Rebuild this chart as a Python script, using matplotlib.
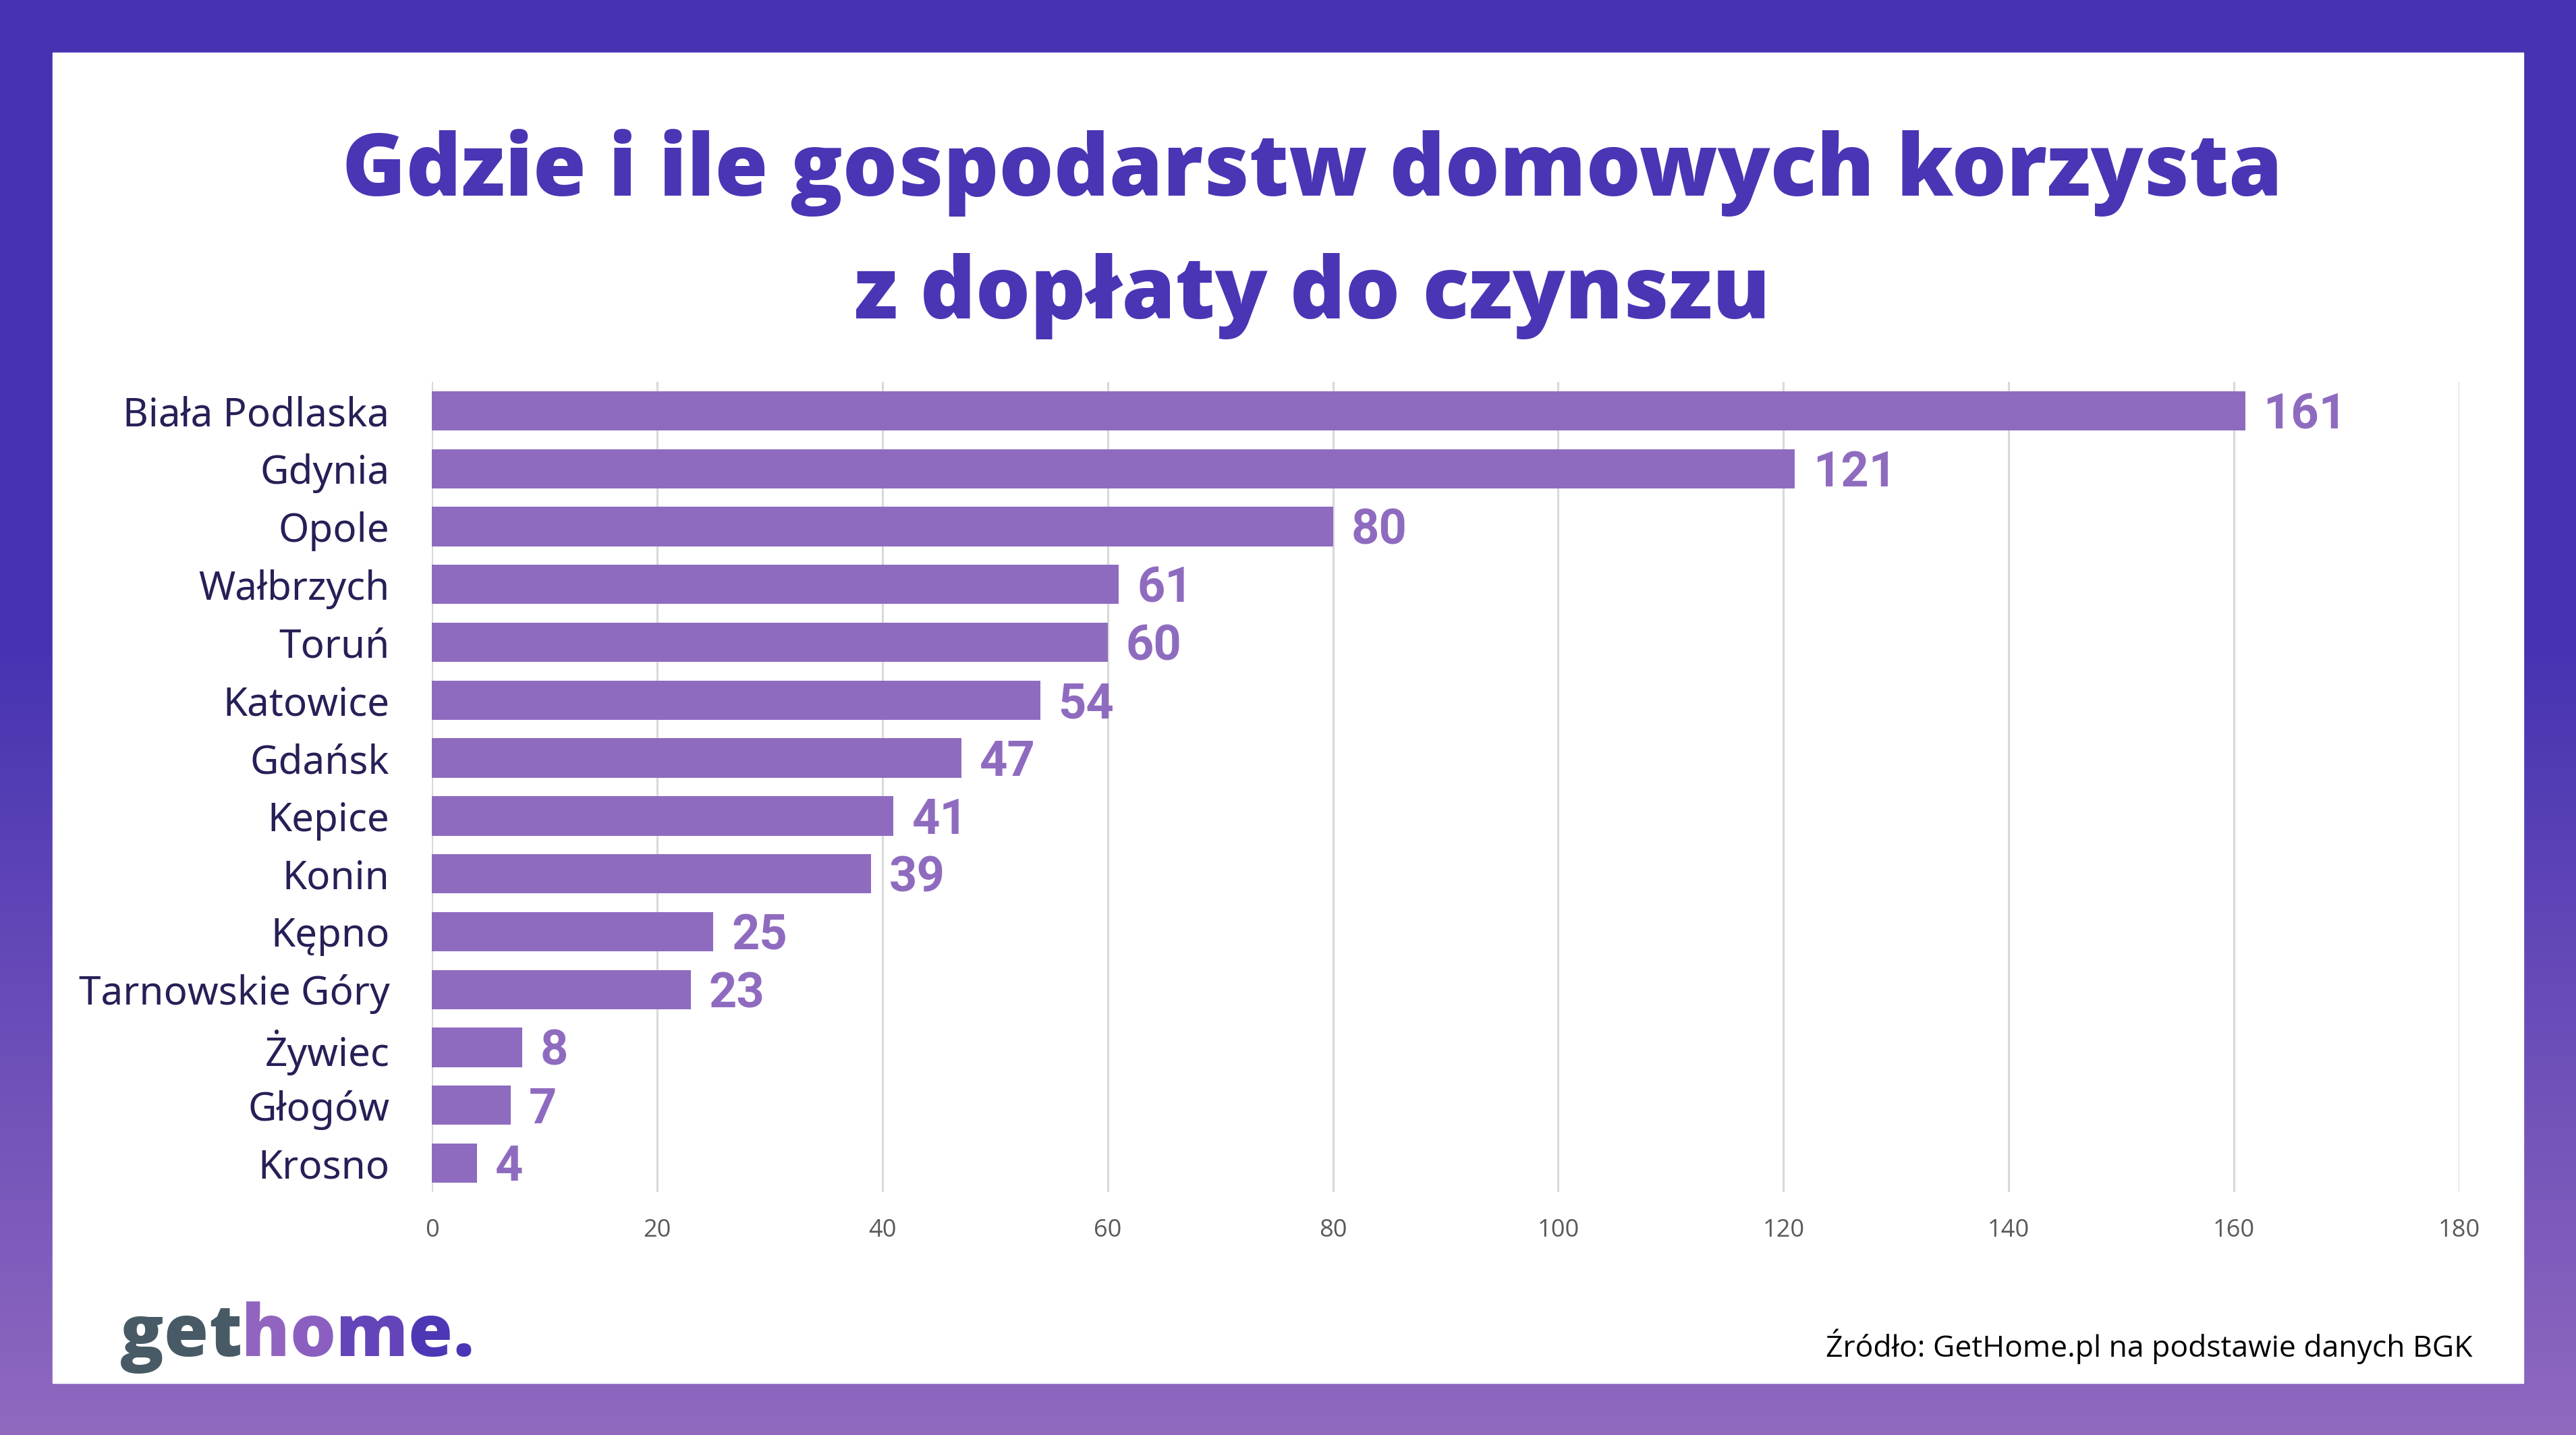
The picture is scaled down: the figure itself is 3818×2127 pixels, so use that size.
import numpy as np
import matplotlib
matplotlib.use("Agg")
import matplotlib.pyplot as plt
from matplotlib import font_manager as fm
from matplotlib.colors import LinearSegmentedColormap
from matplotlib.patches import Rectangle

cities = ["Biała Podlaska", "Gdynia", "Opole", "Wałbrzych", "Toruń", "Katowice",
          "Gdańsk", "Kepice", "Konin", "Kępno", "Tarnowskie Góry", "Żywiec",
          "Głogów", "Krosno"]
households = [161, 121, 80, 61, 60, 54, 47, 41, 39, 25, 23, 8, 7, 4]
xticks = [0, 20, 40, 60, 80, 100, 120, 140, 160, 180]
title = "Gdzie i ile gospodarstw domowych korzysta\nz dopłaty do czynszu"
source = "Źródło: GetHome.pl na podstawie danych BGK"

names = {f.name for f in fm.fontManager.ttflist}
def pick(*cands):
    for c in cands:
        if c in names:
            return c
    return "DejaVu Sans"

f_title = pick("Open Sans", "Lato")
f_lab = pick("Noto Sans", "Lato")
f_num = pick("Roboto", "Lato")
f_tick = pick("Open Sans", "Noto Sans")

W, H = 3818, 2127
fig = plt.figure(figsize=(W / 100, H / 100), dpi=100)

# gradient frame + white panel
bg = fig.add_axes([0, 0, 1, 1], zorder=-5)
t = np.linspace(0, 1, 400)
g = np.clip((t - 0.45) / 0.55, 0, 1)
cm = LinearSegmentedColormap.from_list("frame", ["#4733b2", "#9069bf"])
bg.imshow(g[:, None], aspect="auto", cmap=cm, extent=[0, 1, 0, 1], origin="upper", vmin=0, vmax=1)
bg.add_patch(Rectangle((78 / W, 1 - 2050 / H), (3740 - 78) / W, (2050 - 78) / H,
                       transform=bg.transAxes, color="white"))
bg.set_xlim(0, 1); bg.set_ylim(0, 1)
bg.axis("off")

bar_c = "#8f6bc0"
ax = fig.add_axes([640 / W, 1 - 1767 / H, (3645 - 640) / W, (1767 - 566) / H])
y = np.arange(len(cities))
ax.barh(y, households, height=0.68, color=bar_c, zorder=3)
for yi, v in zip(y, households):
    ax.text(v + 1.6, yi + 0.08, str(v), va="center", ha="left", fontsize=52,
            fontweight="bold", color=bar_c, family=f_num)
ax.set_ylim(len(cities) - 0.5, -0.5)
ax.set_xlim(0, 180)
ax.set_xticks(xticks)
ax.set_xticklabels([str(v) for v in xticks], fontsize=26, color="#595959", family=f_tick)
ax.set_yticks(y)
ax.set_yticklabels(cities, fontsize=42, color="#262057", family=f_lab)
ax.tick_params(axis="x", length=0, pad=28)
ax.tick_params(axis="y", length=0, pad=45)
ax.grid(axis="x", color="#d9d9d9", linewidth=2.2, zorder=0)
for s in ax.spines.values():
    s.set_visible(False)

fig.text(0.5093, 1 - 347 / H, title, ha="center", va="center", fontsize=92,
         fontweight="heavy", color="#4a35b5", family=f_title, linespacing=1.56)

fig.text(3665 / W, 1 - 2011 / H, source, ha="right", va="baseline", fontsize=32,
         color="black", family=f_tick)

# logo
word = "gethome."
cols = ["#475a65", "#475a65", "#475a65", "#9165bf", "#8a5fc0", "#6444b9", "#4d37b5", "#4a35b5"]
r = fig.canvas.get_renderer()
x0, yb = 178, 2127 - 2010
lk = dict(fontsize=77, fontweight="heavy", family=f_title)
for i, (ch, c) in enumerate(zip(word, cols)):
    dx = 0
    if i:
        tmp = fig.text(0, 0, word[:i] + "|", **lk)
        tmp2 = fig.text(0, 0, "|", **lk)
        dx = tmp.get_window_extent(r).width - tmp2.get_window_extent(r).width
        tmp.remove(); tmp2.remove()
    fig.text((x0 + dx) / W, yb / H, ch, color=c, va="baseline", ha="left", **lk)

fig.savefig("out.png", dpi=100)
